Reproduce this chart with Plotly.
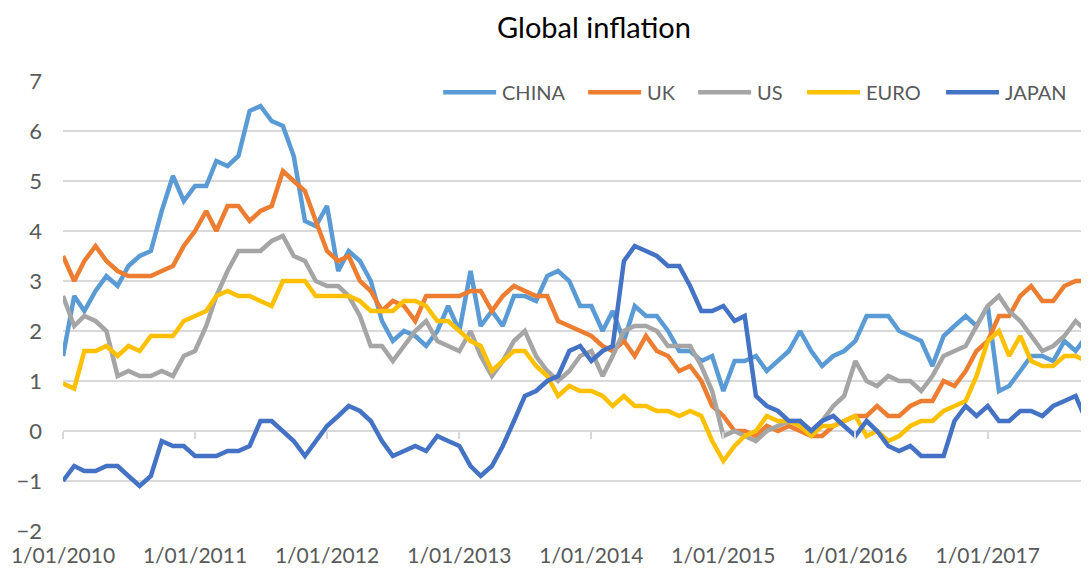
import pandas as pd
import plotly.graph_objects as go

months = pd.date_range("2010-01-01", periods=94, freq="MS")
year_ticks = pd.date_range("2010-01-01", "2017-01-01", freq="YS")

china = [1.5, 2.7, 2.4, 2.8, 3.1, 2.9, 3.3, 3.5, 3.6, 4.4, 5.1, 4.6,
         4.9, 4.9, 5.4, 5.3, 5.5, 6.4, 6.5, 6.2, 6.1, 5.5, 4.2, 4.1,
         4.5, 3.2, 3.6, 3.4, 3.0, 2.2, 1.8, 2.0, 1.9, 1.7, 2.0, 2.5,
         2.0, 3.2, 2.1, 2.4, 2.1, 2.7, 2.7, 2.6, 3.1, 3.2, 3.0, 2.5,
         2.5, 2.0, 2.4, 1.8, 2.5, 2.3, 2.3, 2.0, 1.6, 1.6, 1.4, 1.5,
         0.8, 1.4, 1.4, 1.5, 1.2, 1.4, 1.6, 2.0, 1.6, 1.3, 1.5, 1.6,
         1.8, 2.3, 2.3, 2.3, 2.0, 1.9, 1.8, 1.3, 1.9, 2.1, 2.3, 2.1,
         2.5, 0.8, 0.9, 1.2, 1.5, 1.5, 1.4, 1.8, 1.6, 1.9]

uk = [3.5, 3.0, 3.4, 3.7, 3.4, 3.2, 3.1, 3.1, 3.1, 3.2, 3.3, 3.7,
      4.0, 4.4, 4.0, 4.5, 4.5, 4.2, 4.4, 4.5, 5.2, 5.0, 4.8, 4.2,
      3.6, 3.4, 3.5, 3.0, 2.8, 2.4, 2.6, 2.5, 2.2, 2.7, 2.7, 2.7,
      2.7, 2.8, 2.8, 2.4, 2.7, 2.9, 2.8, 2.7, 2.7, 2.2, 2.1, 2.0,
      1.9, 1.7, 1.6, 1.8, 1.5, 1.9, 1.6, 1.5, 1.2, 1.3, 1.0, 0.5,
      0.3, 0.0, 0.0, -0.1, 0.1, 0.0, 0.1, 0.0, -0.1, -0.1, 0.1, 0.2,
      0.3, 0.3, 0.5, 0.3, 0.3, 0.5, 0.6, 0.6, 1.0, 0.9, 1.2, 1.6,
      1.8, 2.3, 2.3, 2.7, 2.9, 2.6, 2.6, 2.9, 3.0, 3.0]

us = [2.7, 2.1, 2.3, 2.2, 2.0, 1.1, 1.2, 1.1, 1.1, 1.2, 1.1, 1.5,
      1.6, 2.1, 2.7, 3.2, 3.6, 3.6, 3.6, 3.8, 3.9, 3.5, 3.4, 3.0,
      2.9, 2.9, 2.7, 2.3, 1.7, 1.7, 1.4, 1.7, 2.0, 2.2, 1.8, 1.7,
      1.6, 2.0, 1.5, 1.1, 1.4, 1.8, 2.0, 1.5, 1.2, 1.0, 1.2, 1.5,
      1.6, 1.1, 1.5, 2.0, 2.1, 2.1, 2.0, 1.7, 1.7, 1.7, 1.3, 0.8,
      -0.1, 0.0, -0.1, -0.2, 0.0, 0.1, 0.2, 0.2, 0.0, 0.2, 0.5, 0.7,
      1.4, 1.0, 0.9, 1.1, 1.0, 1.0, 0.8, 1.1, 1.5, 1.6, 1.7, 2.1,
      2.5, 2.7, 2.4, 2.2, 1.9, 1.6, 1.7, 1.9, 2.2, 2.0]

euro = [0.95, 0.85, 1.6, 1.6, 1.7, 1.5, 1.7, 1.6, 1.9, 1.9, 1.9, 2.2,
        2.3, 2.4, 2.7, 2.8, 2.7, 2.7, 2.6, 2.5, 3.0, 3.0, 3.0, 2.7,
        2.7, 2.7, 2.7, 2.6, 2.4, 2.4, 2.4, 2.6, 2.6, 2.5, 2.2, 2.2,
        2.0, 1.8, 1.7, 1.2, 1.4, 1.6, 1.6, 1.3, 1.1, 0.7, 0.9, 0.8,
        0.8, 0.7, 0.5, 0.7, 0.5, 0.5, 0.4, 0.4, 0.3, 0.4, 0.3, -0.2,
        -0.6, -0.3, -0.1, 0.0, 0.3, 0.2, 0.2, 0.1, -0.1, 0.1, 0.1, 0.2,
        0.3, -0.1, 0.0, -0.2, -0.1, 0.1, 0.2, 0.2, 0.4, 0.5, 0.6, 1.1,
        1.8, 2.0, 1.5, 1.9, 1.4, 1.3, 1.3, 1.5, 1.5, 1.4]

japan = [-1.0, -0.7, -0.8, -0.8, -0.7, -0.7, -0.9, -1.1, -0.9, -0.2, -0.3, -0.3,
         -0.5, -0.5, -0.5, -0.4, -0.4, -0.3, 0.2, 0.2, 0.0, -0.2, -0.5, -0.2,
         0.1, 0.3, 0.5, 0.4, 0.2, -0.2, -0.5, -0.4, -0.3, -0.4, -0.1, -0.2,
         -0.3, -0.7, -0.9, -0.7, -0.3, 0.2, 0.7, 0.8, 1.0, 1.1, 1.6, 1.7,
         1.4, 1.6, 1.7, 3.4, 3.7, 3.6, 3.5, 3.3, 3.3, 2.9, 2.4, 2.4,
         2.5, 2.2, 2.3, 0.7, 0.5, 0.4, 0.2, 0.2, 0.0, 0.2, 0.3, 0.1,
         -0.1, 0.2, 0.0, -0.3, -0.4, -0.3, -0.5, -0.5, -0.5, 0.2, 0.5, 0.3,
         0.5, 0.2, 0.2, 0.4, 0.4, 0.3, 0.5, 0.6, 0.7, 0.2]

series_names = ["CHINA", "UK", "US", "EURO", "JAPAN"]
series_values = [china, uk, us, euro, japan]
series_colors = ["#5B9BD5", "#ED7D31", "#A5A5A5", "#FFC000", "#4472C4"]

FONT = "Lato"
GRAY = "#595959"
GRID = "#D9D9D9"

# The page has an 8px body margin, so the figure is drawn 8px in from the corner.
OFF = 8
W, H = 1089 - OFF, 571 - OFF
PL, PT, PB = 62.7 - OFF, 80.7 - OFF, 40  # plot area left / top / bottom margin
PW = W - PL
PH = H - PT - PB

fig = go.Figure()
for name, vals, col in zip(series_names, series_values, series_colors):
    fig.add_trace(go.Scatter(
        x=months, y=vals, name=name, mode="lines", showlegend=False,
        line=dict(color=col, width=4.5, shape="linear"),
    ))

# invisible helper trace so the tick-mark axis at y=0 is drawn
fig.add_trace(go.Scatter(x=months, y=japan, xaxis="x2", mode="lines",
                         line=dict(width=0), opacity=0, showlegend=False,
                         hoverinfo="skip"))

# legend drawn as short line samples + labels (page-pixel layout of the original)
legend_line_x = [443, 588, 698, 807, 946]
LEG_LEN = 53
LEG_Y = 92
ly = (531 - LEG_Y) / 450.3
shapes = []
annotations = []
for name, col, lx in zip(series_names, series_colors, legend_line_x):
    x0 = (lx - 62.7) / 1026.3
    x1 = (lx + LEG_LEN - 62.7) / 1026.3
    shapes.append(dict(type="line", xref="paper", yref="paper", x0=x0, x1=x1,
                       y0=ly, y1=ly, line=dict(color=col, width=4.5)))
    annotations.append(dict(text=name, xref="paper", yref="paper",
                            x=(lx + LEG_LEN + 4 - 62.7) / 1026.3, y=ly,
                            xanchor="left", yanchor="middle", showarrow=False,
                            font=dict(family=FONT, size=20, color=GRAY)))

x_range = ["2010-01-01", "2017-10-08"]

fig.update_layout(
    width=W, height=H,
    margin=dict(l=PL, r=0, t=PT, b=PB, autoexpand=False),
    paper_bgcolor="white", plot_bgcolor="white",
    font=dict(family=FONT, color=GRAY),
    title=dict(text="Global inflation", x=(594 - OFF) / W, xref="container",
               xanchor="center", y=1 - (28 - OFF) / H, yref="container",
               yanchor="middle", font=dict(family=FONT, size=29, color="#000000")),
    showlegend=False,
    shapes=shapes,
    annotations=annotations,
    xaxis=dict(type="date", range=x_range, tickvals=list(year_ticks),
               tickformat="%-d/%m/%Y", showgrid=False, showline=False,
               zeroline=False, ticks="", tickfont=dict(family=FONT, size=21, color=GRAY),
               ticklabelstandoff=10),
    xaxis2=dict(type="date", range=x_range, overlaying="x", anchor="free",
                position=2 / 9, side="bottom", tickvals=list(year_ticks),
                ticks="outside", ticklen=7, tickwidth=1.5, tickcolor=GRID,
                showticklabels=False, showgrid=False, showline=False, zeroline=False),
    yaxis=dict(range=[-2, 7], dtick=1, tick0=0, showgrid=True, gridcolor=GRID,
               gridwidth=1.5, zeroline=False, showline=False, ticks="",
               tickfont=dict(family=FONT, size=22, color=GRAY),
               ticklabelstandoff=20),
)

fig.write_html("out.html")
